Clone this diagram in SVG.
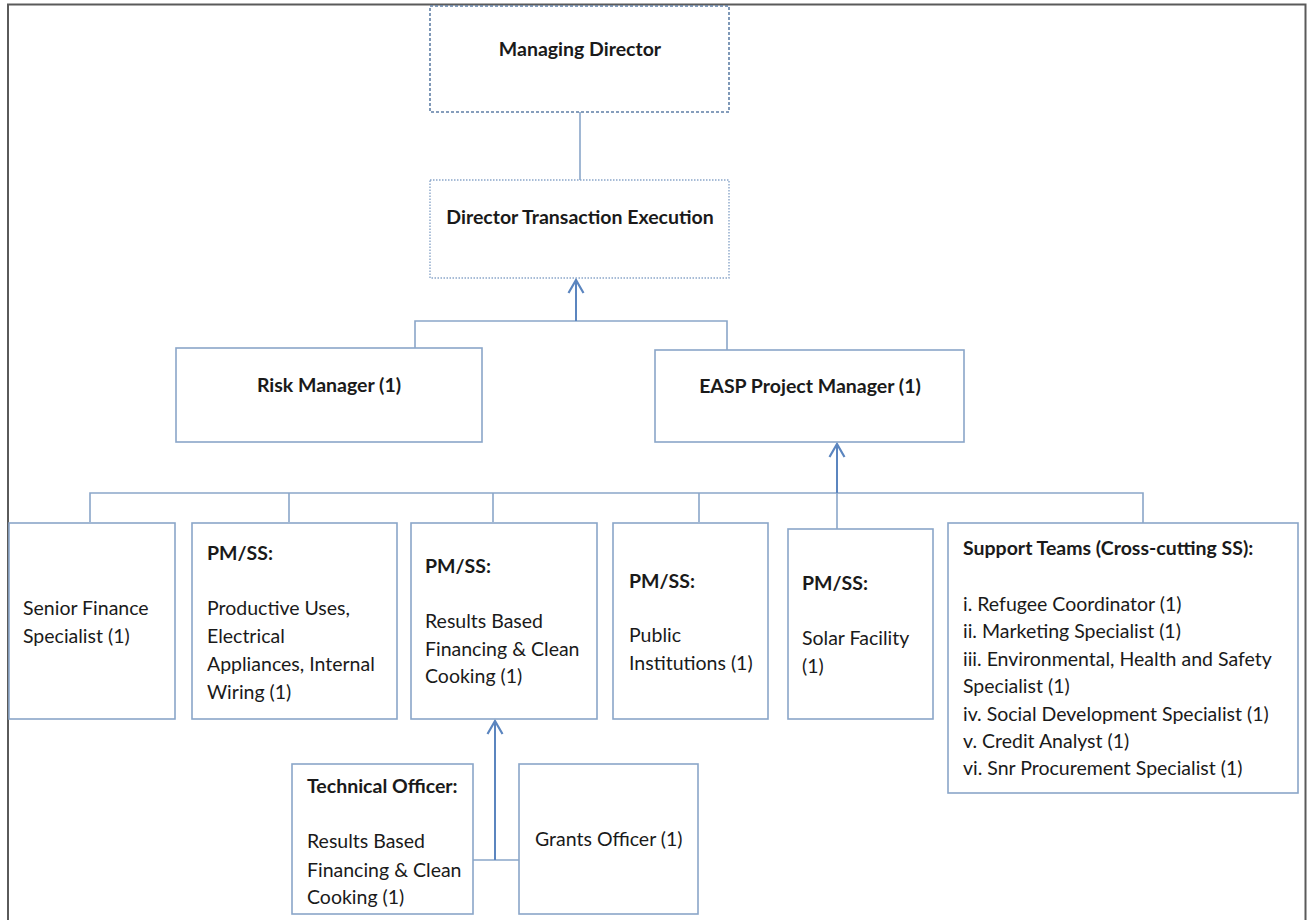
<svg xmlns="http://www.w3.org/2000/svg" width="1307" height="920" viewBox="0 0 1307 920">
<style>
text{font-family:Lato,"Liberation Sans",sans-serif;font-size:19.5px;fill:#1a1a1a}
.b{font-weight:bold}
.box{fill:#fff;stroke:#8aa6c9;stroke-width:1.6}
.con{fill:none;stroke:#8aa6c9;stroke-width:1.6}
.arr{fill:none;stroke:#5b85bf;stroke-width:2}
</style>
<defs>
<marker id="ah" viewBox="-15 -9 17 18" markerWidth="17" markerHeight="18" refX="0" refY="0" orient="auto" markerUnits="userSpaceOnUse">
<path d="M-13,-7.5 L0,0 L-13,7.5" fill="none" stroke="#5b85bf" stroke-width="2.2"/>
</marker>
</defs>
<rect x="0" y="0" width="1307" height="920" fill="#fff"/>
<path d="M8,920 V4.5 H1305.5 V920" fill="none" stroke="#5a5a5a" stroke-width="2"/>
<g id="connectors">
<line class="con" x1="580" y1="112" x2="580" y2="180"/>
<polyline class="con" points="415,348 415,321 727,321 727,350"/>
<line class="arr" x1="576" y1="321" x2="576" y2="280" marker-end="url(#ah)"/>
<polyline class="con" points="90,522 90,493 1143,493 1143,523"/>
<line class="con" x1="289" y1="493" x2="289" y2="522"/>
<line class="con" x1="493" y1="493" x2="493" y2="522"/>
<line class="con" x1="699" y1="493" x2="699" y2="522"/>
<line class="con" x1="837" y1="493" x2="837" y2="529"/>
<line class="arr" x1="837" y1="493" x2="837" y2="444" marker-end="url(#ah)"/>
<polyline class="con" points="473,860 519,860"/>
<line class="arr" x1="495" y1="860" x2="495" y2="721" marker-end="url(#ah)"/>
</g>
<g id="managing-director">
<rect x="430" y="6" width="299" height="106" fill="#fff" stroke="#5f7fa6" stroke-width="1.6" stroke-dasharray="3,2"/>
<text class="b" x="580" y="56" text-anchor="middle">Managing Director</text>
</g>
<g id="director-transaction-execution">
<rect x="430" y="180" width="299" height="98" fill="#fff" stroke="#8aa6c9" stroke-width="1.4" stroke-dasharray="1.5,1.5"/>
<text class="b" x="580" y="224" text-anchor="middle">Director Transaction Execution</text>
</g>
<g id="risk-manager">
<rect class="box" x="176" y="348" width="306" height="94"/>
<text class="b" x="329" y="392" text-anchor="middle">Risk Manager (1)</text>
</g>
<g id="easp-project-manager">
<rect class="box" x="655" y="350" width="309" height="92"/>
<text class="b" x="810" y="393" text-anchor="middle">EASP Project Manager (1)</text>
</g>
<g id="senior-finance">
<rect class="box" x="9" y="523" width="166" height="196"/>
<text x="23" y="615">Senior Finance</text>
<text x="23" y="643">Specialist (1)</text>
</g>
<g id="pmss-productive">
<rect class="box" x="192" y="523" width="205" height="196"/>
<text class="b" x="207" y="560">PM/SS:</text>
<text x="207" y="615">Productive Uses,</text>
<text x="207" y="643">Electrical</text>
<text x="207" y="671">Appliances, Internal</text>
<text x="207" y="699">Wiring (1)</text>
</g>
<g id="pmss-rbf">
<rect class="box" x="411" y="523" width="186" height="196"/>
<text class="b" x="425" y="573">PM/SS:</text>
<text x="425" y="628">Results Based</text>
<text x="425" y="656">Financing &amp; Clean</text>
<text x="425" y="683">Cooking (1)</text>
</g>
<g id="pmss-public">
<rect class="box" x="613" y="523" width="155" height="196"/>
<text class="b" x="629" y="588">PM/SS:</text>
<text x="629" y="642">Public</text>
<text x="629" y="670">Institutions (1)</text>
</g>
<g id="pmss-solar">
<rect class="box" x="788" y="529" width="145" height="190"/>
<text class="b" x="802" y="590">PM/SS:</text>
<text x="802" y="645">Solar Facility</text>
<text x="802" y="673">(1)</text>
</g>
<g id="support-teams">
<rect class="box" x="948" y="523" width="350" height="270"/>
<text class="b" x="963" y="555">Support Teams (Cross-cutting SS):</text>
<text x="963" y="611">i. Refugee Coordinator (1)</text>
<text x="963" y="638">ii. Marketing Specialist (1)</text>
<text x="963" y="666">iii. Environmental, Health and Safety</text>
<text x="963" y="693">Specialist (1)</text>
<text x="963" y="721">iv. Social Development Specialist (1)</text>
<text x="963" y="748">v. Credit Analyst (1)</text>
<text x="963" y="775">vi. Snr Procurement Specialist (1)</text>
</g>
<g id="technical-officer">
<rect class="box" x="292" y="764" width="181" height="150"/>
<text class="b" x="307" y="793">Technical Officer:</text>
<text x="307" y="848">Results Based</text>
<text x="307" y="877">Financing &amp; Clean</text>
<text x="307" y="904">Cooking (1)</text>
</g>
<g id="grants-officer">
<rect class="box" x="519" y="764" width="179" height="150"/>
<text x="535" y="846">Grants Officer (1)</text>
</g>
</svg>
